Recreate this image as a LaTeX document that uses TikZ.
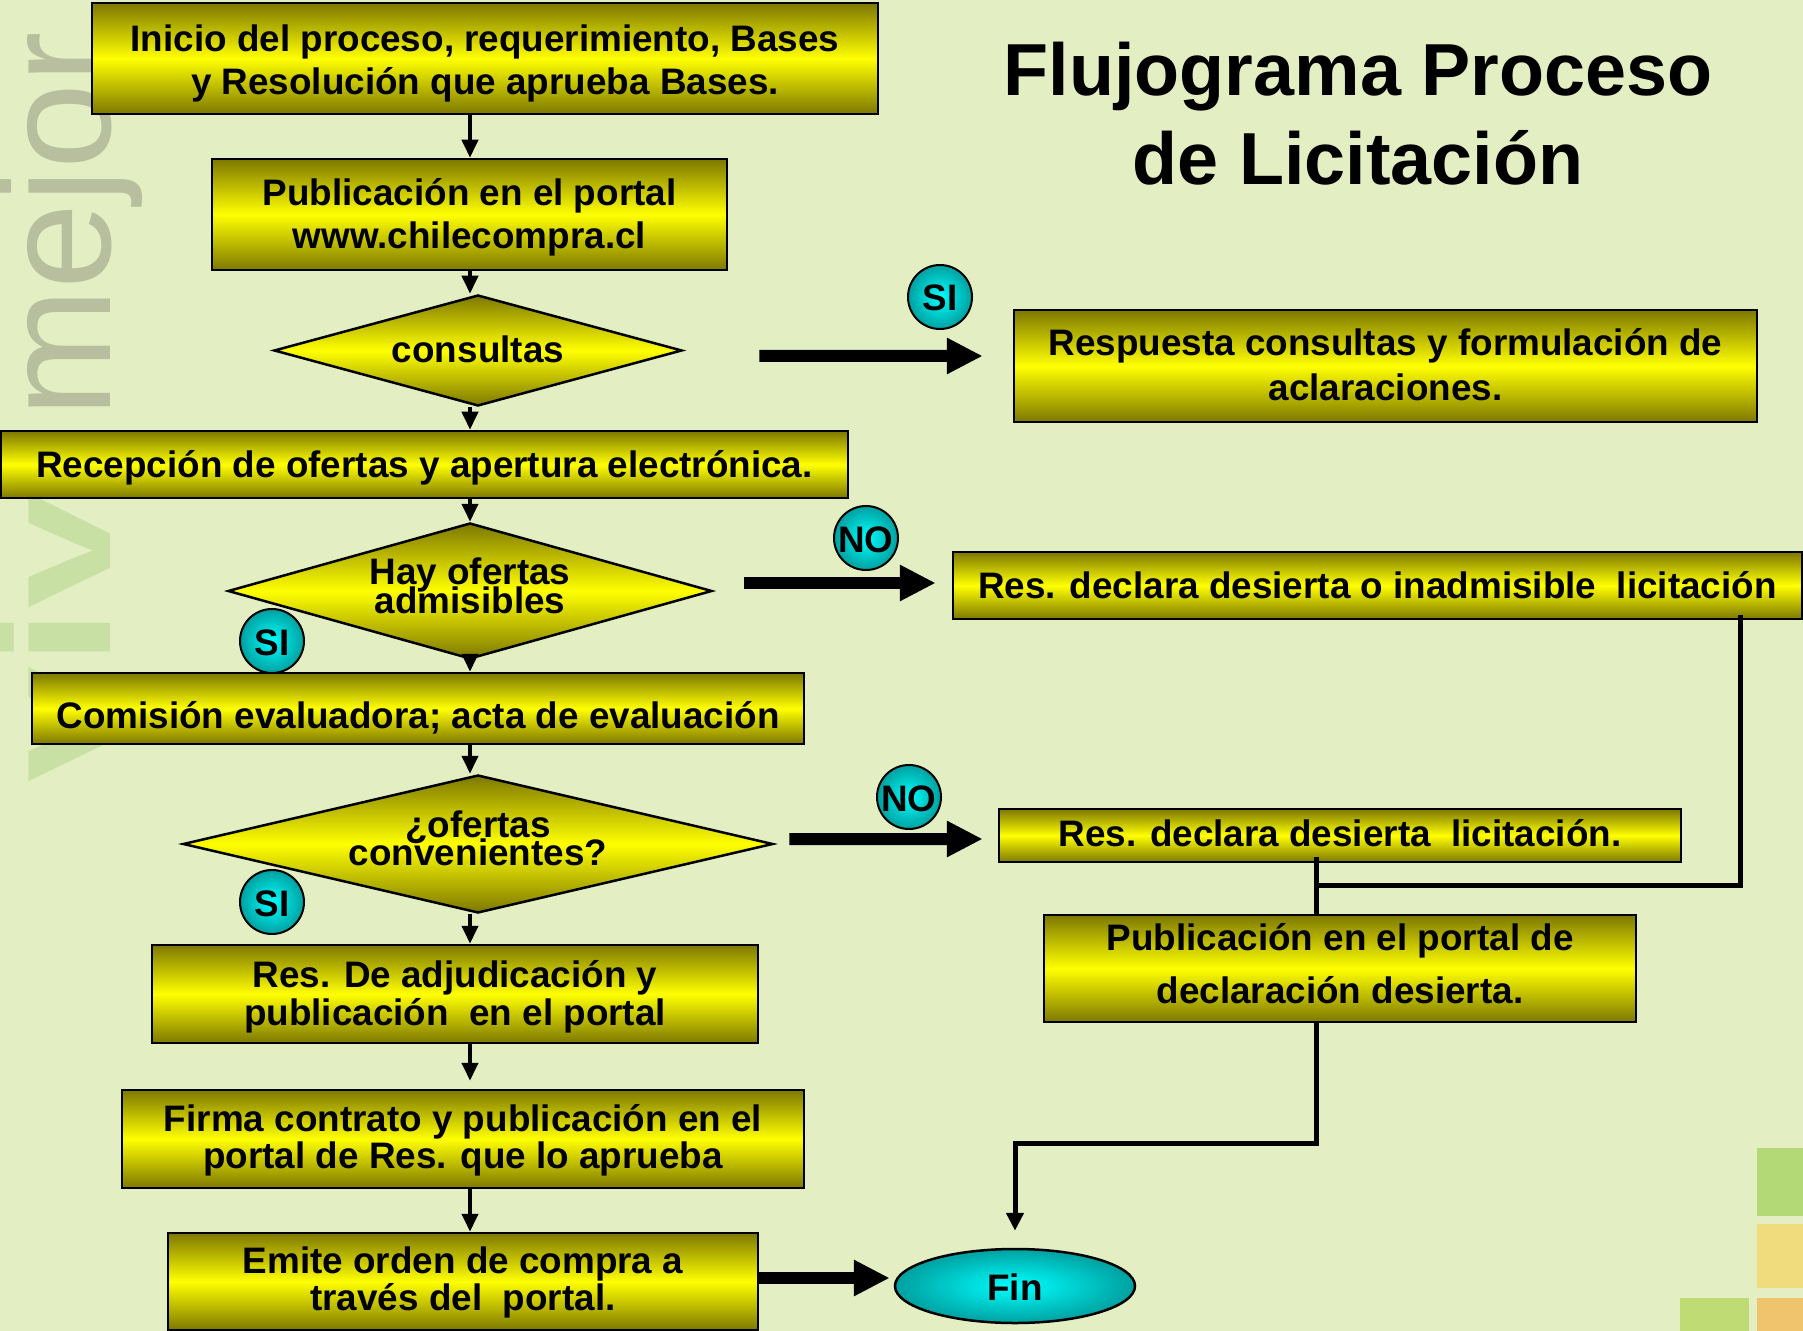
\documentclass[tikz,border=0pt]{standalone}
\usepackage{fontspec}
\setmainfont{Liberation Sans}
\usetikzlibrary{shapes.geometric,arrows.meta,calc}
\definecolor{bg}{HTML}{E3EFC2}
\definecolor{oliv}{HTML}{7D7800}
\definecolor{yel}{HTML}{FFFF00}
\definecolor{cyin}{HTML}{00FFFF}
\definecolor{cyout}{HTML}{00A0A0}
\definecolor{wmgray}{HTML}{B8BF9F}
\definecolor{wmgreen}{HTML}{C8E0A4}
\definecolor{sqgreen}{HTML}{B3D977}
\definecolor{sqyellow}{HTML}{F0DC7C}
\definecolor{sqgreentwo}{HTML}{BFDB74}
\definecolor{sqorange}{HTML}{F0C46C}
\newcommand{\bx}[1]{\fontsize{37}{#1}\selectfont\bfseries\lineskiplimit=-1000pt\relax}
\newcommand{\ttlfont}{\fontsize{74}{90}\selectfont\bfseries\lineskiplimit=-1000pt\relax}
\newcommand{\wmbold}{\fontsize{155}{155}\selectfont\bfseries}
\newcommand{\wmreg}{\fontsize{155}{155}\selectfont}
\begin{document}
\begin{tikzpicture}[x=1bp,y=-1bp,
  tb/.style={text height=#1bp, text depth=8bp},
  box/.style={rectangle, draw=black, line width=2.5bp, top color=oliv, bottom color=oliv, middle color=yel, align=center, inner sep=0pt, font=\bx{44}},
  dec/.style={diamond, draw=black, line width=2.5bp, top color=oliv, bottom color=oliv, middle color=yel, align=center, inner sep=0pt, font=\bx{29}},
  badge/.style={circle, draw=black, line width=2bp, inner color=cyin, outer color=cyout, minimum size=64bp, inner sep=-6bp, font=\bx{37}, tb=36},
  flow/.style={line width=4bp, -{Triangle[length=18bp,width=16bp]}},
  bigarrow/.style={line width=12bp, -{Triangle[length=36bp,width=34bp]}},
  conn/.style={line width=5bp},
]
\useasboundingbox (0,0) rectangle (1803,1331);
\fill[bg] (0,0) rectangle (1803,1331);
% decorative squares
\fill[sqgreen] (1757,1148) rectangle (1803,1216);
\fill[sqyellow] (1757,1224) rectangle (1803,1288);
\fill[sqgreentwo] (1680,1298) rectangle (1749,1331);
\fill[sqorange] (1757,1298) rectangle (1803,1331);
% watermark
\node[rotate=90, anchor=base west, inner sep=0pt, text=wmgreen, font=\wmbold] (wmone) at (110,783) {\scalebox{1.35}[1]{vivi}};
\node[rotate=90, anchor=base west, inner sep=0pt, text=wmgray, font=\wmreg] (wmtwo) at (110,418) {mejor};
% title
\node[align=center, inner sep=0pt, font=\ttlfont] (title) at (1358,113.5) {Flujograma Proceso\\de Licitación};
% main column
\node[box, tb=81, minimum width=786bp, minimum height=111bp] (inicio) at (485,58.5) {Inicio del proceso, requerimiento, Bases\\y Resolución que aprueba Bases.};
\node[box, tb=77, minimum width=515bp, minimum height=111bp] (pub) at (469.5,214.5) {Publicación en el portal\\www.chilecompra.cl};
\node[dec, tb=32.4, minimum width=408bp, minimum height=111bp, shape aspect=3.68, font=\bx{37}] (cons) at (478,350.5) {consultas};
\node[box, tb=33, minimum width=847bp, minimum height=67bp] (recep) at (424.5,464.5) {Recepción de ofertas y apertura electrónica.};
\node[dec, tb=52, minimum width=484bp, minimum height=136bp, shape aspect=3.56] (hay) at (470,591) {Hay ofertas\\admisibles};
\node[box, tb=48, minimum width=772bp, minimum height=71bp] (comis) at (418,708.5) {Comisión evaluadora; acta de evaluación};
\node[dec, tb=50, minimum width=590bp, minimum height=138bp, shape aspect=4.28, font=\bx{28}] (conv) at (478,844) {¿ofertas\\convenientes?};
\node[box, tb=70, minimum width=606bp, minimum height=98bp, font=\bx{38}] (adj) at (455,994) {Res. De adjudicación y\\publicación\ \ en el portal};
\node[box, tb=66.6, minimum width=682bp, minimum height=98bp, font=\bx{37}] (firma) at (463,1139) {Firma contrato y publicación en el\\portal de Res. que lo aprueba};
\node[box, tb=65, minimum width=590bp, minimum height=97bp, font=\bx{37}] (emite) at (463,1281.5) {Emite orden de compra a\\través del\ \ portal.};
\node[ellipse, draw=black, line width=2.5bp, inner color=cyin, outer color=cyout, minimum width=240bp, minimum height=74bp, inner sep=0pt, font=\bx{37}, tb=36] (fin) at (1015,1286) {Fin};
% right column
\node[box, tb=76, minimum width=743bp, minimum height=112bp, font=\bx{45}] (resp) at (1385.5,366) {Respuesta consultas y formulación de\\aclaraciones.};
\node[box, tb=33.6, minimum width=849bp, minimum height=67bp] (inadm) at (1377.5,585.5) {Res. declara desierta o inadmisible\ \ licitación};
\node[box, tb=29, minimum width=682bp, minimum height=53bp] (desl) at (1340,835.5) {Res. declara desierta\ \ licitación.};
\node[box, tb=77.6, minimum width=592bp, minimum height=107bp, font=\bx{53}] (pubd) at (1340,968.5) {Publicación en el portal de\\declaración desierta.};
% badges
\node[badge] (sione) at (940,297) {SI};
\node[badge] (noone) at (866,538) {NO};
\node[badge] (notwo) at (909,797) {NO};
\node[badge] (sitwo) at (272,641) {SI};
\node[badge] (sithree) at (272,902) {SI};
% main arrows
\coordinate (sp) at (470,0);
\draw[flow] (inicio.south -| sp) -- (pub.north -| sp);
\draw[flow] (pub.south -| sp) -- (cons.north -| sp);
\draw[flow] (cons.south -| sp) -- (recep.north -| sp);
\draw[flow] (recep.south -| sp) -- (hay.north -| sp);
\draw[flow] (hay.south -| sp) -- (comis.north -| sp);
\draw[flow] (comis.south -| sp) -- (conv.north -| sp);
\draw[flow] (conv.south -| sp) -- (adj.north -| sp);
\draw[flow, shorten >=8bp] (adj.south -| sp) -- (firma.north -| sp);
\draw[flow] (firma.south -| sp) -- (emite.north -| sp);
% block arrows
\draw[bigarrow] ($(cons.east)+(76,5.5)$) -- ($(resp.west)+(-30,-10)$);
\draw[bigarrow] ($(hay.east)+(31,-8)$) -- ($(inadm.west)+(-16,-2.5)$);
\draw[bigarrow] ($(conv.east)+(15,-5)$) -- ($(desl.west)+(-15,3.5)$);
\draw[bigarrow] ($(emite.east)+(0,-3.5)$) -- ($(fin.west)+(-4,-8)$);
% right connectors
\coordinate (j) at (1316,885);
\coordinate (k) at (1015,1143);
\draw[conn] ($(inadm.south)+(362.5,-5)$) |- (j);
\draw[conn] ($(desl.south -| j)+(0,-6)$) -- (pubd.north -| j);
\draw[conn, -{Triangle[length=18bp,width=17bp]}] (pubd.south -| j) |- (k) -- ($(k |- fin.north)+(0,-17)$);
\end{tikzpicture}
\end{document}
